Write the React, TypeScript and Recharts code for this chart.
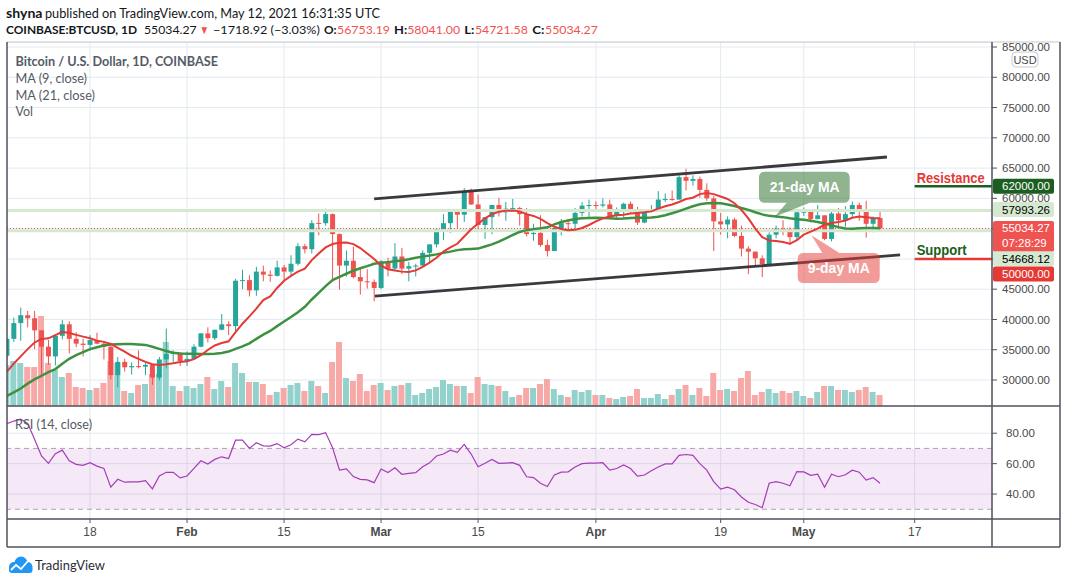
import React from 'react';
import {
  ComposedChart, Bar, Line, XAxis, YAxis, CartesianGrid,
  ReferenceLine, ReferenceArea, ReferenceDot, Cell,
} from 'recharts';

// ---------- DATA (daily, Jan 6 2021 = day 0 ... May 12 2021 = day 126) ----------
const opens = [
  34000,36800,39400,40700,40200,38200,35500,33900,37300,39200,
  36800,36000,35800,36600,36000,35500,30800,33000,32100,32300,
  32200,32500,30400,33400,34300,34500,33100,33500,35500,37700,
  36900,38300,39200,38900,46400,46500,44800,47900,47400,47200,
  48600,47900,49200,52100,51600,55950,55900,57400,54100,48900,
  49700,47000,46300,46200,45200,49600,48400,50400,48400,48800,
  48900,51000,52400,54900,55900,57800,57300,61200,59000,55600,
  56900,58900,57700,58300,58400,57400,54100,54300,52300,51300,
  55100,55900,55800,57600,58800,58900,58800,59000,57100,58200,
  59100,57900,56000,58100,58200,59800,59900,59800,63500,62900,
  63200,61400,60000,56200,55700,56500,53800,51700,51200,50100,
  49100,54000,55000,54900,53600,57700,57800,56600,57200,53300,
  57500,56400,57400,58900,58200,55800,56753.19,
];
const highs = [
  36900,40300,41950,41400,41400,38200,36600,37600,39900,39700,
  37900,36800,37400,37800,36400,35600,33800,33500,32900,34900,
  32800,32600,33800,38500,34900,34500,34700,35900,37700,38700,
  38300,40900,39700,46700,48200,47300,48700,48900,48100,49700,
  49000,50600,52600,52500,56400,57500,58300,57500,54200,51400,
  52000,48400,48300,46600,49800,50200,52600,51800,49500,49200,
  51400,52400,54900,57400,58100,58000,61700,61600,60600,56900,
  58900,60100,59400,59900,58600,58400,55800,57200,53200,55100,
  56600,56600,58400,59400,59800,59500,60000,59800,58500,59300,
  59500,58600,58200,58900,61200,60800,61300,63800,64900,63800,
  63600,62500,60400,57600,57000,56800,55500,52100,51200,50600,
  54400,55500,56400,55200,58000,58500,57900,58900,57200,57900,
  58400,58700,59500,59300,59600,57000,58041.00,
];
const lows = [
  33300,36300,36500,38700,35100,30400,32500,32400,36700,34400,
  35400,33900,34800,35900,33400,30100,28800,31400,30900,31900,
  30800,29200,29900,31900,32900,32300,32300,33400,35400,36200,
  36600,38200,37400,37900,45000,43800,43900,46300,46200,47100,
  46300,47100,48900,50900,50900,53900,55500,46300,44900,47100,
  46800,44100,45100,43000,45000,47100,48100,47500,46300,47100,
  48900,49300,51900,53100,54300,55000,56100,58900,54600,53300,
  54100,57000,56300,57900,55500,53700,53000,52000,50400,51300,
  53900,54700,54900,57000,56900,57900,58500,56900,56500,56800,
  57600,55600,55900,57700,57900,59400,59600,59800,61300,62100,
  60100,59600,51300,54000,53400,53600,50400,47500,48700,47000,
  48800,53400,53900,52300,53000,57100,56000,56500,53100,52900,
  55300,55300,56900,56300,53500,54400,54721.58,
];
const closes = [
  36800,39400,40700,40200,38200,35500,33900,37300,39200,36800,
  36000,35800,36600,36000,35500,30800,33000,32100,32300,32200,
  32500,30400,33400,34300,34500,33100,33500,35500,37700,36900,
  38300,39200,38900,46400,46500,44800,47900,47400,47200,48600,
  47900,49200,52100,51600,55900,55900,57400,54100,48900,49700,
  47000,46300,46200,45200,49600,48400,50400,48400,48800,48900,
  51000,52400,54900,55900,57800,57300,61200,59000,55600,56900,
  58900,57700,58300,58400,57400,54100,54300,52300,51300,55100,
  55900,55800,57600,58800,58900,58800,59000,57100,58200,59100,
  57900,56000,58100,58200,59800,59900,59800,63500,62900,63200,
  61400,60000,56200,55700,56500,53800,51700,51200,50100,49100,
  54000,55000,54900,53600,57700,57800,56600,57200,53300,57500,
  56400,57400,58900,58200,55800,56700,55034.27,
];
// volume (thousand BTC)
const volumes = [
  41,45,43,39,39,90,43,36,29,33,
  19,18,16,18,23,45,43,15,13,21,
  22,32,32,64,20,15,20,18,22,29,
  17,25,19,43,33,24,24,22,11,14,
  18,21,23,15,25,20,13,44,64,28,
  25,32,15,21,23,16,20,21,23,11,
  13,17,19,26,22,20,20,13,29,22,
  21,20,15,9,11,18,18,22,27,17,
  11,9,16,14,16,11,11,8,7,9,
  10,17,8,8,12,7,11,17,21,11,
  18,10,33,16,17,15,28,35,11,14,
  17,13,15,13,15,10,8,14,20,20,
  16,16,14,16,19,14,11,
];
const ma9 = [
  31370,32700,33900,35100,36200,36780,36880,37400,37950,37750,
  37450,37160,36890,36500,36300,35950,35300,34680,34000,33500,
  33000,32600,32480,32590,32760,32980,33100,33450,34100,34950,
  35700,36100,36400,37900,39300,40500,41800,43200,43800,45200,
  46400,47200,47900,48400,49800,50900,51900,52450,52650,52700,
  52450,51800,50900,50000,48900,48300,48070,47900,47850,48100,
  48700,49400,50200,51200,51900,52500,53700,54900,55800,56700,
  57400,57800,57950,58000,57850,57400,57100,56600,55900,55300,
  54950,54750,54800,55100,55600,56200,56700,57000,57200,57300,
  57500,57600,57700,57850,58300,58700,59000,59400,59900,60100,
  60700,60900,60700,60300,59900,59200,58100,56700,55000,53600,
  53050,52950,52800,52500,53100,54000,54500,55000,55700,55950,
  56100,56350,56800,57000,56900,56750,56730,
];
const ma21 = [
  27360,27950,28600,29400,30100,30700,31300,31800,32700,33500,
  34100,34600,35100,35400,35700,35850,35920,35950,35930,35880,
  35800,35500,35150,34800,34510,34380,34350,34320,34300,34300,
  34350,34450,34700,35150,35550,36060,36800,37500,38100,38900,
  39650,40400,41200,42100,43300,44400,45500,46500,47050,47550,
  48050,48450,48800,49200,49350,49470,49600,49730,49950,50200,
  50380,50550,50750,51000,51200,51450,51580,51650,51700,52050,
  52400,52850,53400,53950,54450,54750,54920,55050,55220,55700,
  56100,56350,56580,56700,56740,56780,56770,56730,56650,56680,
  56740,56780,56810,56850,56950,57200,57550,57900,58300,58700,
  59040,59180,59220,59180,59000,58750,58400,58100,57700,57350,
  57110,57000,56900,56700,56550,56450,56300,56100,55850,55550,
  55250,55020,55000,55070,55110,55100,55070,
];
const rsi14 = [
  86.3,88,89.2,86.5,76,65,60.2,66.5,68.9,61.9,
  59.5,58.9,60.6,58.4,56.9,44.5,49.7,47.8,48,48,
  48.8,43.4,51.9,54.3,54.3,50.6,51.9,56.9,61.9,59.7,
  62.8,64.5,63.4,75.4,75.4,70,73.7,71.7,71.5,73.2,
  70.4,72.4,76.1,74.3,79.3,79.1,80.4,70.5,55.8,56.5,
  51.5,49.7,49.3,47.5,56.5,54.1,57.3,53,53.6,54.1,
  58,60.5,65,66.3,68.9,67.4,72.6,66.3,58,60.2,
  62.8,60.2,60.4,60.6,58.9,51.4,50.8,47.1,45,52.5,
  54.4,54.6,57.8,60,60.4,60.4,60.6,55.7,56.8,59.1,
  56.8,51.8,52.5,55.3,57.8,59.8,59.8,65.4,66,65.4,
  60,55.7,48.2,43.2,44.5,42.8,38.1,34.6,33.1,31,
  47.1,48.2,47.1,45.4,54.8,54.6,52.3,53.1,44.5,53.1,
  51.4,52.7,55.7,54.4,49.2,50.8,47.1,
];

const dateTicks = [12, 26, 40, 54, 68, 85, 103, 115, 131];
const dateTickLabels = ['18', 'Feb', '15', 'Mar', '15', 'Apr', '19', 'May', '17'];
const monthLabels = ['Feb', 'Mar', 'Apr', 'May'];
const priceTicks = [30000, 35000, 40000, 45000, 50000, 55000, 60000, 65000, 70000, 75000, 80000, 85000];
const rsiTicks = [40, 60, 80];

const upperChannel = [{ x: 53.0, y: 59900 }, { x: 127.0, y: 66830 }];
const lowerChannel = [{ x: 53.1, y: 43870 }, { x: 128.9, y: 50650 }];
const resistanceLevel = 62000;
const supportLevel = 50000;
const levelStartDay = 131;
const lastPrice = 55034.27;
const hiLine = 57993.26;
const loLine = 54668.12;
const ma21Anchor = { day: 110.8, price: 56970 };
const ma9Anchor = { day: 116.1, price: 53920 };

// ---------- STYLE ----------
const X_DOMAIN: [number, number] = [0.02, 142.16];
const P_DOMAIN: [number, number] = [25706, 85826];
const V_DOMAIN: [number, number] = [0, 364];
const R_DOMAIN: [number, number] = [23.6, 97.9];

const UP = '#26a69a';
const DOWN = '#ef5350';
const VOL_UP = '#93d2cc';
const VOL_DOWN = '#f7a9a7';
const GRID = '#e2eaf0';
const AXIS_TEXT = '#4a4a4a';
const FRAME = '#50535e';
const AXF = 'Liberation Sans, Arial, sans-serif';
const HF = 'Lato, "Open Sans", sans-serif';

const rows = closes.map((c, i) => ({
  i,
  open: opens[i],
  high: highs[i],
  low: lows[i],
  close: c,
  range: [lows[i], highs[i]],
  vol: volumes[i],
  ma9: ma9[i],
  ma21: ma21[i],
  rsi: rsi14[i],
}));

const Candle = (props: any) => {
  const { x, y, width, height, payload } = props;
  if (x == null || y == null || !payload) return null;
  const { open, close, high, low } = payload;
  const color = close >= open ? UP : DOWN;
  const span = high - low || 1;
  const pix = (v: number) => y + ((high - v) / span) * height;
  const yo = pix(open);
  const yc = pix(close);
  const top = Math.min(yo, yc);
  const bot = Math.max(yo, yc);
  const cx = x + width / 2;
  return (
    <g>
      <line x1={cx} x2={cx} y1={y} y2={y + height} stroke={color} strokeWidth={1} />
      <rect x={x} y={top} width={width} height={Math.max(1, bot - top)} fill={color} />
    </g>
  );
};

const DateTick = (props: any) => {
  const { x, y, payload } = props;
  const k = dateTicks.indexOf(payload.value);
  const label = k >= 0 ? dateTickLabels[k] : '';
  const bold = monthLabels.includes(label);
  return (
    <text x={x} y={y} dy={11} textAnchor="middle" fontSize={12} fontFamily={AXF}
      fontWeight={bold ? 700 : 400} fill={AXIS_TEXT}>{label}</text>
  );
};

function roundedWithTail(x0: number, y0: number, x1: number, y1: number, r: number,
  side: 'top' | 'bottom', b1: number, b2: number, tx: number, ty: number) {
  if (side === 'bottom') {
    return `M${x0 + r},${y0} H${x1 - r} Q${x1},${y0} ${x1},${y0 + r} V${y1 - r} Q${x1},${y1} ${x1 - r},${y1} H${b2} L${tx},${ty} L${b1},${y1} H${x0 + r} Q${x0},${y1} ${x0},${y1 - r} V${y0 + r} Q${x0},${y0} ${x0 + r},${y0} Z`;
  }
  return `M${x0 + r},${y0} H${b1} L${tx},${ty} L${b2},${y0} H${x1 - r} Q${x1},${y0} ${x1},${y0 + r} V${y1 - r} Q${x1},${y1} ${x1 - r},${y1} H${x0 + r} Q${x0},${y1} ${x0},${y1 - r} V${y0 + r} Q${x0},${y0} ${x0 + r},${y0} Z`;
}

const Callout21 = (p: any) => {
  const { cx, cy } = p;
  if (cx == null) return null;
  const d = roundedWithTail(cx - 15.7, cy - 45, cx + 75, cy - 14, 6, 'bottom', cx + 12, cx + 35, cx, cy);
  return (
    <g>
      <path d={d} fill="#3b7a3b" fillOpacity={0.57} />
      <text x={cx + 30} y={cy - 24.5} textAnchor="middle" fontSize={14} fontWeight={700}
        fontFamily={AXF} fill="#ffffff" textLength={70} lengthAdjust="spacingAndGlyphs">21-day MA</text>
    </g>
  );
};

const Callout9 = (p: any) => {
  const { cx, cy } = p;
  if (cx == null) return null;
  const d = roundedWithTail(cx - 13.7, cy + 17.7, cx + 68.3, cy + 47.7, 6, 'top', cx + 11, cx + 28, cx, cy);
  return (
    <g>
      <path d={d} fill="#e53935" fillOpacity={0.5} />
      <text x={cx + 27.3} y={cy + 37.5} textAnchor="middle" fontSize={14} fontWeight={700}
        fontFamily={AXF} fill="#ffffff" textLength={62} lengthAdjust="spacingAndGlyphs">9-day MA</text>
    </g>
  );
};

const levelText = (label: string, color: string, len: number) => (p: any) => {
  const { cx, cy } = p;
  if (cx == null) return null;
  return (
    <text x={cx + 2} y={cy - 3.5} fontSize={14} fontWeight={700} fontFamily={AXF} fill={color}
      textLength={len} lengthAdjust="spacingAndGlyphs">{label}</text>
  );
};

const makeBadge = (lines: string[], bg: string, fg: string, dy: number) => (props: any) => {
  const vb = props.viewBox;
  if (!vb) return null;
  const x0 = vb.x + vb.width;
  const cy = vb.y + dy;
  const h = lines.length === 2 ? 31 : 15;
  const top = cy - 7.5;
  return (
    <g>
      <rect x={x0 + 1} y={top} width={61} height={h} rx={2} fill={bg} />
      {lines.map((t, k) => (
        <text key={k} x={x0 + 10} y={cy + 4 + k * 15} fontSize={11.5} fontFamily={AXF} fill={fg}>{t}</text>
      ))}
    </g>
  );
};

// header segments: [text, x, width, bold, red]
const headerLine2: [string, number, number, boolean, boolean][] = [
  ['COINBASE:BTCUSD, 1D', 6, 131, true, false],
  ['55034.27', 144, 52.7, false, false],
  ['▼', 199.5, 9.5, false, true],
  ['−1718.92 (−3.03%)', 213, 106.8, false, false],
  ['O:', 323.9, 12.7, true, false],
  ['56753.19', 337.1, 52.9, false, true],
  ['H:', 394, 13.2, true, false],
  ['58041.00', 407.2, 52.9, false, true],
  ['L:', 464.2, 10.2, true, false],
  ['54721.58', 474.9, 52.9, false, true],
  ['C:', 532.3, 12.2, true, false],
  ['55034.27', 545, 52.9, false, true],
];

export default function App() {
  return (
    <div style={{ position: 'absolute', left: 0, top: 0, width: 1065, height: 584, background: '#ffffff', overflow: 'hidden' }}>
      {/* main price pane */}
      <div style={{ position: 'absolute', left: 7, top: 42 }}>
        <ComposedChart width={1053} height={364} data={rows} margin={{ top: 0, right: 0, bottom: 0, left: 0 }}>
          <XAxis xAxisId="x" dataKey="i" type="number" domain={X_DOMAIN} ticks={dateTicks} allowDataOverflow hide />
          <XAxis xAxisId="vx" dataKey="i" type="number" domain={X_DOMAIN} allowDataOverflow hide />
          <YAxis yAxisId="p" orientation="right" type="number" domain={P_DOMAIN} ticks={priceTicks}
            allowDataOverflow width={68} axisLine={false} tickLine={{ stroke: '#555' }} tickSize={5} tickMargin={5}
            interval={0} tick={{ fontSize: 11.5, fontFamily: AXF, fill: AXIS_TEXT }}
            tickFormatter={(v: number) => v.toFixed(2)} />
          <YAxis yAxisId="vol" type="number" domain={V_DOMAIN} allowDataOverflow hide />
          <CartesianGrid xAxisId="x" yAxisId="p" stroke={GRID} strokeWidth={1} />
          <ReferenceLine xAxisId="x" yAxisId="p" y={hiLine} stroke="#d5e9d0" strokeWidth={3} />
          <ReferenceLine xAxisId="x" yAxisId="p" y={loLine} stroke="#d5e9d0" strokeWidth={3} />
          <Bar xAxisId="vx" yAxisId="vol" dataKey="vol" barSize={6} isAnimationActive={false}>
            {rows.map((r) => (
              <Cell key={r.i} fill={r.close >= r.open ? VOL_UP : VOL_DOWN} />
            ))}
          </Bar>
          <ReferenceLine xAxisId="x" yAxisId="p" y={lastPrice} stroke={DOWN} strokeDasharray="1 2" strokeWidth={1} />
          <Bar xAxisId="x" yAxisId="p" dataKey="range" barSize={5} shape={Candle} isAnimationActive={false} />
          <Line xAxisId="x" yAxisId="p" dataKey="ma21" stroke="#3f9142" strokeWidth={2.5} dot={false} isAnimationActive={false} />
          <Line xAxisId="x" yAxisId="p" dataKey="ma9" stroke="#e53935" strokeWidth={2} dot={false} isAnimationActive={false} />
          <ReferenceLine xAxisId="x" yAxisId="p" segment={upperChannel} stroke="#3a3a3e" strokeWidth={2.8} />
          <ReferenceLine xAxisId="x" yAxisId="p" segment={lowerChannel} stroke="#3a3a3e" strokeWidth={2.8} />
        </ComposedChart>
      </div>

      {/* annotation overlay on the price pane */}
      <div style={{ position: 'absolute', left: 7, top: 42 }}>
        <ComposedChart width={1053} height={364} data={rows} margin={{ top: 0, right: 68, bottom: 0, left: 0 }}>
          <XAxis dataKey="i" type="number" domain={X_DOMAIN} allowDataOverflow hide />
          <YAxis type="number" domain={P_DOMAIN} allowDataOverflow hide />
          <ReferenceLine segment={[{ x: levelStartDay, y: resistanceLevel }, { x: X_DOMAIN[1], y: resistanceLevel }]}
            stroke="#1b5e20" strokeWidth={2.5} ifOverflow="visible" />
          <ReferenceLine segment={[{ x: levelStartDay, y: supportLevel }, { x: X_DOMAIN[1], y: supportLevel }]}
            stroke="#e53935" strokeWidth={2.5} ifOverflow="visible" />
          <ReferenceDot x={levelStartDay} y={resistanceLevel} r={0} ifOverflow="visible"
            shape={levelText('Resistance', '#e53935', 68)} />
          <ReferenceDot x={levelStartDay} y={supportLevel} r={0} ifOverflow="visible"
            shape={levelText('Support', '#1b5e20', 50)} />
          <ReferenceDot x={ma21Anchor.day} y={ma21Anchor.price} r={0} ifOverflow="visible" shape={Callout21} />
          <ReferenceDot x={ma9Anchor.day} y={ma9Anchor.price} r={0} ifOverflow="visible" shape={Callout9} />
          <ReferenceLine y={resistanceLevel} stroke="none" ifOverflow="visible"
            label={makeBadge(['62000.00'], '#1b5e20', '#ffffff', 0)} />
          <ReferenceLine y={hiLine} stroke="none" ifOverflow="visible"
            label={makeBadge(['57993.26'], '#d5e9d0', '#000000', -1)} />
          <ReferenceLine y={lastPrice} stroke="none" ifOverflow="visible"
            label={makeBadge(['55034.27', '07:28:29'], '#ef5350', '#ffffff', 0)} />
          <ReferenceLine y={loLine} stroke="none" ifOverflow="visible"
            label={makeBadge(['54668.12'], '#d5e9d0', '#000000', 28)} />
          <ReferenceLine y={supportLevel} stroke="none" ifOverflow="visible"
            label={makeBadge(['50000.00'], '#e53935', '#ffffff', 15)} />
        </ComposedChart>
      </div>

      {/* RSI pane + date axis */}
      <div style={{ position: 'absolute', left: 7, top: 406 }}>
        <ComposedChart width={1053} height={141} data={rows} margin={{ top: 0, right: 0, bottom: 0, left: 0 }}>
          <XAxis dataKey="i" type="number" domain={X_DOMAIN} ticks={dateTicks} allowDataOverflow height={28}
            axisLine={false} tickLine={{ stroke: '#555' }} tickSize={4} interval={0} tick={<DateTick />} />
          <YAxis orientation="right" type="number" domain={R_DOMAIN} ticks={rsiTicks} allowDataOverflow width={68}
            axisLine={false} tickLine={{ stroke: '#555' }} tickSize={5} tickMargin={9} interval={0}
            tick={{ fontSize: 11.5, fontFamily: AXF, fill: AXIS_TEXT }} tickFormatter={(v: number) => v.toFixed(2)} />
          <CartesianGrid stroke={GRID} />
          <ReferenceArea y1={30} y2={70} fill="#9c27b0" fillOpacity={0.1} stroke="none" />
          <ReferenceLine y={70} stroke="#aca3b2" strokeDasharray="5 4" />
          <ReferenceLine y={30} stroke="#aca3b2" strokeDasharray="5 4" />
          <Line dataKey="rsi" stroke="#a43cb8" strokeWidth={1.2} dot={false} isAnimationActive={false} />
        </ComposedChart>
      </div>

      {/* frame, header, legends */}
      <svg width={1065} height={584} style={{ position: 'absolute', left: 0, top: 0, pointerEvents: 'none' }}>
        <line x1={7} x2={1060} y1={42} y2={42} stroke="#c4c7cc" strokeWidth={1} />
        <line x1={7} x2={7} y1={42} y2={547} stroke={FRAME} strokeWidth={1.5} />
        <line x1={1060} x2={1060} y1={42} y2={547} stroke={FRAME} strokeWidth={1.5} />
        <line x1={7} x2={1060} y1={547} y2={547} stroke={FRAME} strokeWidth={1.5} />
        <line x1={992} x2={992} y1={42} y2={547} stroke={FRAME} strokeWidth={1.5} />
        <line x1={7} x2={1060} y1={406} y2={406} stroke={FRAME} strokeWidth={1.5} />
        <line x1={7} x2={1060} y1={519} y2={519} stroke={FRAME} strokeWidth={1.5} />

        <rect x={1012} y={52} width={26} height={15} rx={4} fill="#ffffff" stroke="#c8cbd2" />
        <text x={1025} y={63.5} textAnchor="middle" fontSize={11} fontFamily={AXF} fill={AXIS_TEXT}>USD</text>

        <text x={6} y={18} fontSize={13.5} fontWeight={700} fontFamily={HF} fill="#131722"
          textLength={36.5} lengthAdjust="spacingAndGlyphs">shyna</text>
        <text x={45} y={18} fontSize={13.5} fontFamily={HF} fill="#131722"
          textLength={335} lengthAdjust="spacingAndGlyphs">published on TradingView.com, May 12, 2021 16:31:35 UTC</text>
        {headerLine2.map(([t, x, w, b, red], k) => (
          <text key={k} x={x} y={34} fontSize={b ? 11.5 : 12} fontWeight={b ? 700 : 400} fontFamily={HF}
            fill={red ? DOWN : '#131722'} textLength={w} lengthAdjust="spacingAndGlyphs"
            style={{ fontSize: b ? 11.5 : 12 }}>{t}</text>
        ))}

        <text x={15.5} y={65.5} fontSize={13.5} fontWeight={700} fontFamily={HF} fill="#555b66" textLength={202.5} lengthAdjust="spacingAndGlyphs">Bitcoin / U.S. Dollar, 1D, COINBASE</text>
        <text x={15.5} y={83} fontSize={13.5} fontFamily={HF} fill="#555b66" textLength={71.5} lengthAdjust="spacingAndGlyphs">MA (9, close)</text>
        <text x={15.5} y={99.7} fontSize={13.5} fontFamily={HF} fill="#555b66" textLength={79.5} lengthAdjust="spacingAndGlyphs">MA (21, close)</text>
        <text x={15.5} y={115.7} fontSize={13.5} fontFamily={HF} fill="#555b66" textLength={17.5} lengthAdjust="spacingAndGlyphs">Vol</text>
        <text x={15} y={429} fontSize={13.5} fontFamily={HF} fill="#555b66" textLength={77} lengthAdjust="spacingAndGlyphs">RSI (14, close)</text>

        <g>
          <circle cx={14} cy={567} r={5} fill="#2196f3" />
          <circle cx={21} cy={563} r={6.5} fill="#2196f3" />
          <circle cx={27.5} cy={567} r={5} fill="#2196f3" />
          <rect x={9} y={566} width={23.5} height={7} rx={3} fill="#2196f3" />
          <polyline points="11,570 16,565 21,569 28,561" fill="none" stroke="#ffffff" strokeWidth={1.8} />
        </g>
        <text x={35} y={570} fontSize={14} fontFamily={HF} fill="#2a2e39" textLength={70} lengthAdjust="spacingAndGlyphs">TradingView</text>
      </svg>
    </div>
  );
}
